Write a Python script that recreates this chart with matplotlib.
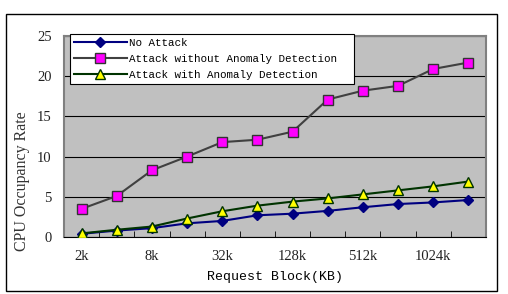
import matplotlib
matplotlib.use("Agg")
import matplotlib.pyplot as plt
from matplotlib.patches import Rectangle

# request block sizes (only every other one is labelled on the axis)
blocks = ["2k", "4k", "8k", "16k", "32k", "64k", "128k", "256k", "512k", "768k", "1024k", "2048k"]
shown = ["2k", "8k", "32k", "128k", "512k", "1024k"]

no_attack = [0.4, 0.8, 1.1, 1.7, 2.0, 2.7, 2.9, 3.25, 3.7, 4.1, 4.3, 4.6]
attack_no_ad = [3.5, 5.1, 8.3, 10.0, 11.8, 12.1, 13.1, 17.1, 18.2, 18.8, 20.9, 21.7]
attack_ad = [0.45, 0.9, 1.3, 2.3, 3.2, 3.9, 4.4, 4.8, 5.3, 5.8, 6.3, 6.9]

mono = "Liberation Mono"
serif = "Liberation Serif"

fig = plt.figure(figsize=(5.08, 2.94), dpi=100)
ax = fig.add_axes([64/508, 1-237/294, 422/508, 201/294])
ax.set_facecolor("#c0c0c0")

x = list(range(len(blocks)))
ax.plot(x, no_attack, color="#000080", lw=1.5, marker="D", ms=5.5,
        mfc="#000080", mec="#000080", label="No Attack", zorder=3)
ax.plot(x, attack_no_ad, color="#404040", lw=1.5, marker="s", ms=7,
        mfc="#ff00ff", mec="#333333", mew=1, label="Attack without Anomaly Detection  ", zorder=3)
ax.plot(x, attack_ad, color="#003300", lw=1.5, marker="^", ms=7,
        mfc="#ffff00", mec="#003300", mew=1, label="Attack with Anomaly Detection", zorder=3)

ax.set_xlim(-0.5, len(blocks) - 0.5)
ax.set_ylim(0, 25)
ax.set_yticks([0, 5, 10, 15, 20, 25])
ax.yaxis.grid(True, color="black", lw=0.8)
ax.set_axisbelow(True)

ax.set_xticks([blocks.index(b) for b in shown])
ax.set_xticklabels(shown)
ax.set_xticks([i + 0.5 for i in range(len(blocks) - 1)], minor=True)
ax.tick_params(axis="x", which="major", length=0, pad=9)
ax.tick_params(axis="x", which="minor", direction="in", length=4, color="black")
ax.tick_params(axis="y", length=0, pad=9)
for lab in ax.get_xticklabels() + ax.get_yticklabels():
    lab.set_fontfamily(serif)
    lab.set_fontsize(10.5)
    lab.set_color("#222222")

for s in ["top", "right", "left"]:
    ax.spines[s].set_color("#808080")
    ax.spines[s].set_linewidth(1.5)
ax.spines["bottom"].set_color("black")

ax.set_xlabel("Request Block(KB)", fontfamily=mono, fontsize=9.5, labelpad=6)
ax.set_ylabel("CPU Occupancy Rate", fontfamily=serif, fontsize=11.5, color="#333333")
ax.yaxis.set_label_coords(-0.08, 0.28)

leg = ax.legend(loc="upper left", bbox_to_anchor=(70/508, 1-34/294),
                bbox_transform=fig.transFigure, prop={"family": mono, "size": 7.8},
                frameon=True, fancybox=False, framealpha=1, edgecolor="black",
                borderpad=0.35, labelspacing=0.55, handlelength=4.9, handletextpad=0.2,
                borderaxespad=0)
leg.get_frame().set_linewidth(0.8)

fig.patches.append(Rectangle((6/508, 1-291/294), 491/508, 277/294, transform=fig.transFigure,
                             fill=False, edgecolor="black", lw=1))

fig.savefig("out.png", dpi=100)
